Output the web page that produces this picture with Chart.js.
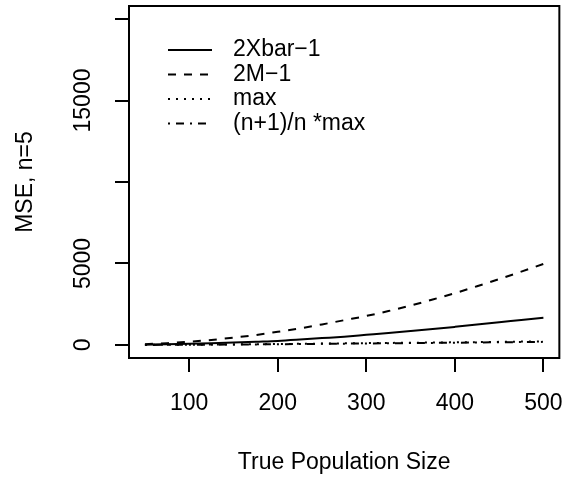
<!DOCTYPE html>
<html lang="en">
<head>
  <meta charset="utf-8">
  <title>MSE, n=5</title>
  <script src="https://cdn.jsdelivr.net/npm/chart.js@4/dist/chart.umd.min.js"></script>
  <style>
    html, body { margin: 0; padding: 0; background: #fff; }
    #wrap { width: 581px; height: 482px; }
  </style>
</head>
<body>
  <div id="wrap"><canvas id="myChart" width="581" height="482"></canvas></div>
  <script>
    // true population size N
    var popSize = [50, 75, 100, 125, 150, 175, 200, 225, 250, 275, 300, 325, 350, 375, 400, 425, 450, 475, 500];
    // MSE of each estimator
    var mseXbar = [17, 38, 67, 105, 150, 200, 250, 330, 420, 510, 620, 730, 850, 975, 1110, 1250, 1400, 1530, 1675];
    var mseMedian = [50, 110, 200, 310, 450, 610, 810, 1020, 1260, 1520, 1780, 2080, 2420, 2790, 3180, 3600, 4040, 4500, 4970];
    var mseMax = [5, 10, 16, 24, 33, 45, 58, 70, 85, 98, 112, 125, 138, 150, 162, 175, 190, 205, 220];
    var mseMaxAdj = [3, 7, 12, 18, 26, 35, 45, 56, 68, 80, 92, 104, 116, 128, 140, 152, 164, 176, 190];
    var labels = ['2Xbar\u22121', '2M\u22121', 'max', '(n+1)/n *max'];
    var dashes = [[], [8, 8], [2, 6], [2, 6, 8, 6]];

    var xTicks = [100, 200, 300, 400, 500];
    var yTicks = [0, 5000, 10000, 15000, 20000];
    var yLabelled = [0, 5000, 15000];

    var FONT = '"Liberation Sans", Arial, Helvetica, sans-serif';

    function pts(ys) {
      return popSize.map(function (x, i) { return { x: x, y: ys[i] }; });
    }

    var series = [mseXbar, mseMedian, mseMax, mseMaxAdj];
    var datasets = series.map(function (s, i) {
      return {
        label: labels[i],
        data: pts(s),
        borderColor: '#000',
        borderWidth: 2,
        borderDash: dashes[i],
        pointRadius: 0,
        cubicInterpolationMode: 'monotone',
        fill: false
      };
    });

    // box, rotated y labels and legend in R style
    var rPlot = {
      id: 'rPlot',
      afterDraw: function (chart) {
        var ctx = chart.ctx;
        var a = chart.chartArea;
        var yScale = chart.scales.y;
        ctx.save();
        ctx.strokeStyle = '#000';
        ctx.lineWidth = 2;
        ctx.setLineDash([]);
        ctx.strokeRect(a.left, a.top, a.right - a.left, a.bottom - a.top);

        ctx.fillStyle = '#000';
        ctx.font = '23px ' + FONT;
        ctx.textAlign = 'center';
        ctx.textBaseline = 'middle';
        yLabelled.forEach(function (v) {
          var py = yScale.getPixelForValue(v);
          ctx.save();
          ctx.translate(84, py);
          ctx.rotate(-Math.PI / 2);
          ctx.fillText(String(v), 0, 0);
          ctx.restore();
        });

        // legend
        ctx.textAlign = 'left';
        chart.data.datasets.forEach(function (ds, i) {
          var ly = 50 + i * 24.5;
          ctx.beginPath();
          ctx.setLineDash(ds.borderDash);
          ctx.lineWidth = 2;
          ctx.moveTo(168, ly);
          ctx.lineTo(212, ly);
          ctx.stroke();
          ctx.setLineDash([]);
          ctx.fillText(ds.label, 233, ly);
        });
        ctx.restore();
      }
    };

    var ctx = document.getElementById('myChart');
    var myChart = new Chart(ctx, {
      type: 'line',
      data: { datasets: datasets },
      options: {
        responsive: false,
        animation: false,
        layout: { padding: { top: 6, right: 11, left: 0, bottom: 0 } },
        plugins: { legend: { display: false }, tooltip: { enabled: false } },
        scales: {
          x: {
            type: 'linear',
            min: 32,
            max: 518,
            afterBuildTicks: function (scale) {
              scale.ticks = xTicks.map(function (v) { return { value: v }; });
            },
            afterFit: function (scale) { scale.height = 124; },
            grid: { drawOnChartArea: false, drawTicks: true, tickLength: 14, color: '#000', lineWidth: 2 },
            border: { display: false },
            ticks: { color: '#000', font: { family: FONT, size: 23 }, padding: 18, maxRotation: 0 },
            title: {
              display: true, text: 'True Population Size', color: '#000',
              font: { family: FONT, size: 23, lineHeight: 1 }, padding: { top: 0, bottom: 8 }
            }
          },
          y: {
            type: 'linear',
            min: -800,
            max: 20800,
            afterBuildTicks: function (scale) {
              scale.ticks = yTicks.map(function (v) { return { value: v }; });
            },
            afterFit: function (scale) { scale.width = 129; },
            grid: { drawOnChartArea: false, drawTicks: true, tickLength: 14, color: '#000', lineWidth: 2 },
            border: { display: false },
            ticks: { display: false },
            title: {
              display: true, text: 'MSE, n=5', color: '#000',
              font: { family: FONT, size: 23, lineHeight: 1 }, padding: { top: 14, bottom: 0 }
            }
          }
        }
      },
      plugins: [rPlot]
    });
  </script>
</body>
</html>
